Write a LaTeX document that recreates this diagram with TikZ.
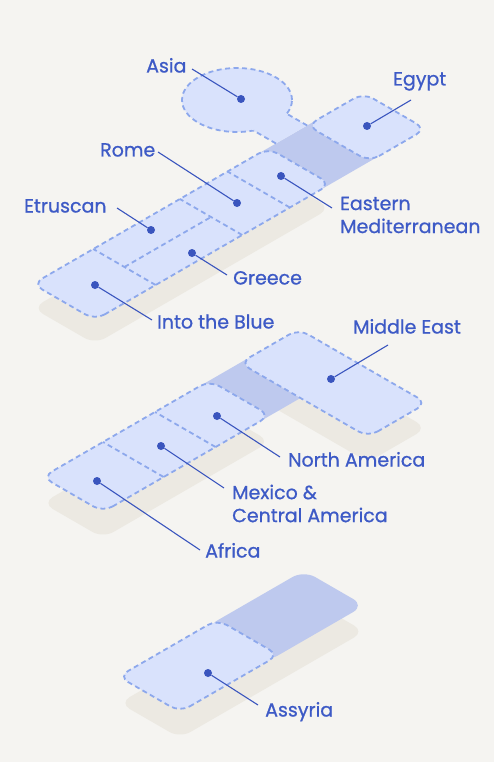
\documentclass[tikz,border=0pt]{standalone}
\usepackage{fontspec}
\newfontfamily\labelfont{Poppins}[FakeBold=0.8]
\definecolor{paper}{HTML}{F5F4F1}
\definecolor{lightblue}{HTML}{D9E2FC}
\definecolor{darkband}{HTML}{BEC9EE}
\definecolor{dashblue}{HTML}{8DA8EC}
\definecolor{labelblue}{HTML}{3D5AC6}
\definecolor{lineblue}{HTML}{3A55BE}
\definecolor{shadow}{HTML}{ECE9E2}
% a box spanned by the two isometric axes: \isobox{s0}{t0}{s1}{t1}
\newcommand\isobox[4]{(#1,#2) -- (#3,#2) -- (#3,#4) -- (#1,#4) -- cycle}
\begin{document}
\begin{tikzpicture}[x=1pt,y=1pt,
  iso/.style={x={(0.866pt,0.5pt)},y={(-0.866pt,0.5pt)}},
  slab/.style={fill=shadow, rounded corners=12pt},
  band/.style={fill=darkband},
  base/.style={fill=lightblue, rounded corners=11pt},
  outline/.style={draw=dashblue, line width=1.8pt, dash pattern=on 5pt off 3.5pt},
  region/.style={base, outline},
  divider/.style={outline},
  dot/.style={circle, fill=lineblue, inner sep=0pt, minimum size=8pt},
  leader/.style={draw=lineblue, line width=1.1pt},
  lbl/.style={text=labelblue, font=\labelfont\fontsize{19}{23}\selectfont, inner sep=0pt, align=left}]

% page
\fill[paper] (0,0) rectangle (494,-762);

% ---------- upper block ----------
\begin{scope}[shift={(95,-344)}, iso]
  \fill[slab] \isobox{0}{0}{272}{72};
\end{scope}
\begin{scope}[shift={(95,-320)}, iso]
  \fill[band] \isobox{262}{0}{327}{72};
\end{scope}
% Asia disc with its neck
\path[fill=lightblue, outline] (237,-100) ellipse [x radius=55, y radius=32];
\begin{scope}[shift={(95,-320)}, iso]
  \fill[lightblue] \isobox{281}{72}{317}{112};
  \draw[divider] (281,72) -- (281,98);
  \draw[divider] (317,72) -- (317,96);
  \path[base, outline] \isobox{0}{0}{272}{72};
  \draw[divider] (70,0) -- (70,72);
  \draw[divider] (70,36) -- (170,36);
  \draw[divider] (170,0) -- (170,72);
  \draw[divider] (225,0) -- (225,72);
  \path[region] \isobox{317}{0}{382}{72};
\end{scope}

% ---------- middle block ----------
\begin{scope}[shift={(103,-538)}, iso]
  \fill[slab] \isobox{0}{0}{193}{70};
\end{scope}
\begin{scope}[shift={(103,-537)}, iso]
  \fill[slab] \isobox{228}{-78}{296}{70};
\end{scope}
\begin{scope}[shift={(103,-512)}, iso]
  \fill[band] \isobox{184}{0}{236}{70};
  \path[region] \isobox{0}{0}{193}{70};
  \draw[divider] (70,0) -- (70,70);
  \draw[divider] (130,0) -- (130,70);
  \path[region] \isobox{228}{-78}{296}{70};
\end{scope}

% ---------- lower block ----------
\begin{scope}[shift={(180,-738)}, iso]
  \fill[slab] \isobox{0}{0}{213}{70};
\end{scope}
\begin{scope}[shift={(180,-712)}, iso]
  \fill[band, rounded corners=13pt] \isobox{100}{0}{213}{70};
  \path[region] \isobox{0}{0}{114}{71};
\end{scope}

% ---------- markers ----------
\node[dot] (asia)    at (241,-99)  {};
\node[dot] (egypt)   at (367,-126) {};
\node[dot] (rome)    at (237,-203) {};
\node[dot] (etr)     at (151,-230) {};
\node[dot] (emed)    at (281,-176) {};
\node[dot] (greece)  at (192,-253) {};
\node[dot] (blue)    at (95,-285)  {};
\node[dot] (mideast) at (331,-379) {};
\node[dot] (namer)   at (217,-416) {};
\node[dot] (mexico)  at (161,-446) {};
\node[dot] (africa)  at (97,-481)  {};
\node[dot] (assyria) at (208,-673) {};

% ---------- labels ----------
\node[lbl, anchor=base west] (tasia)    at (146,-72.5)  {Asia};
\node[lbl, anchor=base west] (tegypt)   at (393,-85.5)  {Egypt};
\node[lbl, anchor=base west] (trome)    at (100,-156.5) {Rome};
\node[lbl, anchor=base west] (tetr)     at (24,-212.5)  {Etruscan};
\node[lbl, anchor=west]      (temed)    at (340,-215)   {Eastern\\Mediterranean};
\node[lbl, anchor=base west] (tgreece)  at (233,-284.5) {Greece};
\node[lbl, anchor=base west] (tblue)    at (157,-328.5) {Into the Blue};
\node[lbl, anchor=base west] (tmideast) at (353,-333.5) {Middle East};
\node[lbl, anchor=base west] (tnamer)   at (288,-466.5) {North America};
\node[lbl, anchor=west]      (tmexico)  at (232,-503.5) {Mexico \&\\Central America};
\node[lbl, anchor=base west] (tafrica)  at (205,-557.5) {Africa};
\node[lbl, anchor=base west] (tassyria) at (265,-716.5) {Assyria};

% ---------- leader ends ----------
\coordinate (lasia)    at (192,-69);
\coordinate (legypt)   at (411,-100);
\coordinate (lrome)    at (158,-152);
\coordinate (letr)     at (117,-208);
\coordinate (lemed)    at (332,-208);
\coordinate (lgreece)  at (227,-275);
\coordinate (lblue)    at (152,-320);
\coordinate (lmideast) at (388,-345);
\coordinate (lnamer)   at (280,-457);
\coordinate (lmexico)  at (224,-488);
\coordinate (lafrica)  at (200,-550);
\coordinate (lassyria) at (258,-705);

\foreach \d in {asia,egypt,rome,etr,emed,greece,blue,mideast,namer,mexico,africa,assyria}
  \draw[leader] (\d) -- (l\d);
\end{tikzpicture}
\end{document}
